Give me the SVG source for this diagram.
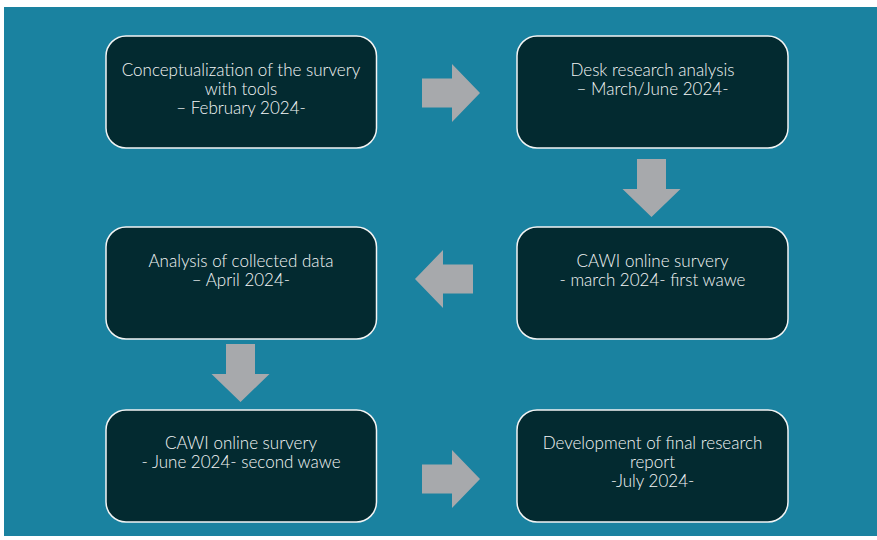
<svg xmlns="http://www.w3.org/2000/svg" width="877" height="540" viewBox="0 0 877 540">
  <style>
    .box { fill: #032a30; stroke: #f2f4f4; stroke-width: 1.5; }
    .arrow { fill: #a7a9ac; }
    .label { font-family: Lato, "Open Sans", "Liberation Sans", sans-serif; font-size: 17px; font-weight: 300; fill: #f4f6f6; text-anchor: middle; }
  </style>
  <defs>
    <!-- block arrow pointing right, origin at the left end of the shaft centre -->
    <path id="blockArrow" d="M0,-14.5 H30 V-29 L58,0 L30,29 V14.5 H0 Z"/>
  </defs>

  <rect x="0" y="0" width="877" height="540" fill="#ffffff"/>
  <rect x="4" y="7" width="873" height="529" fill="#1a82a0"/>

  <g id="connectors">
    <use href="#blockArrow" class="arrow" transform="translate(422,93)"/>
    <use href="#blockArrow" class="arrow" transform="translate(651.5,159) rotate(90)"/>
    <use href="#blockArrow" class="arrow" transform="translate(473,279) rotate(180)"/>
    <use href="#blockArrow" class="arrow" transform="translate(240.5,344) rotate(90)"/>
    <use href="#blockArrow" class="arrow" transform="translate(422,479)"/>
  </g>

  <g id="node-conceptualization">
    <rect class="box" x="106" y="36" width="270.5" height="112" rx="20"/>
    <text class="label" x="241" y="76">Conceptualization of the survery</text>
    <text class="label" x="241" y="95">with tools</text>
    <text class="label" x="241" y="114">– February 2024-</text>
  </g>

  <g id="node-desk-research">
    <rect class="box" x="517" y="36" width="271" height="112" rx="20"/>
    <text class="label" x="652.5" y="76">Desk research analysis</text>
    <text class="label" x="652.5" y="95">– March/June 2024-</text>
  </g>

  <g id="node-cawi-first">
    <rect class="box" x="517" y="227" width="271" height="112" rx="20"/>
    <text class="label" x="652.5" y="267">CAWI online survery</text>
    <text class="label" x="652.5" y="286">- march 2024- first wawe</text>
  </g>

  <g id="node-analysis">
    <rect class="box" x="106" y="227" width="270.5" height="112" rx="20"/>
    <text class="label" x="241" y="267">Analysis of collected data</text>
    <text class="label" x="241" y="286">– April 2024-</text>
  </g>

  <g id="node-cawi-second">
    <rect class="box" x="106" y="410" width="270.5" height="112" rx="20"/>
    <text class="label" x="241" y="449">CAWI online survery</text>
    <text class="label" x="241" y="468">- June 2024- second wawe</text>
  </g>

  <g id="node-final-report">
    <rect class="box" x="517" y="410" width="271" height="112" rx="20"/>
    <text class="label" x="652.5" y="449">Development of final research</text>
    <text class="label" x="652.5" y="468">report</text>
    <text class="label" x="652.5" y="487">-July 2024-</text>
  </g>
</svg>
